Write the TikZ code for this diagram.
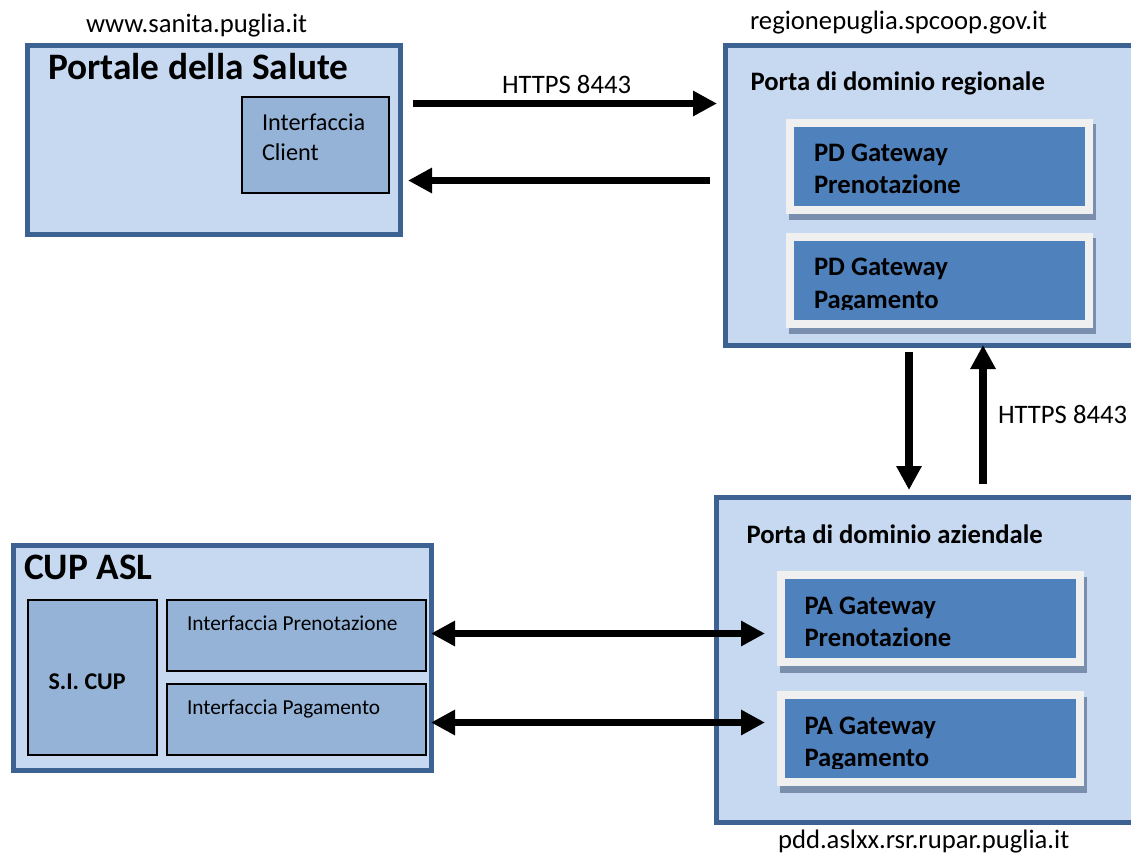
\documentclass[tikz,border=0pt]{standalone}
\usepackage{fontspec}
\setmainfont{Carlito}
\usetikzlibrary{arrows.meta}
\definecolor{cLight}{HTML}{C6D9F1}
\definecolor{cBorder}{HTML}{3B6291}
\definecolor{cMid}{HTML}{95B3D7}
\definecolor{cBlue}{HTML}{4F81BD}
\definecolor{cFrame}{HTML}{F0F0F0}
\definecolor{cShadow}{HTML}{7A8FAE}
\tikzset{
  outerbox/.style={rectangle,draw=cBorder,fill=cLight,line width=3.6pt,inner sep=0pt,outer sep=0pt,anchor=north west},
  midbox/.style={rectangle,draw=black,fill=cMid,line width=1.5pt,inner sep=0pt,outer sep=0pt,anchor=north west},
  gwbox/.style={rectangle,draw=cFrame,fill=cBlue,line width=6pt,minimum width=224.25pt,minimum height=65.6pt,inner sep=0pt,outer sep=0pt,anchor=north west},
  gwshadow/.style={rectangle,fill=cShadow,minimum width=230.25pt,minimum height=72pt,inner sep=0pt,outer sep=0pt,anchor=north west},
  lbl/.style={anchor=base west,inner sep=0pt,outer sep=0pt,text=black,font=\fontsize{20pt}{24pt}\selectfont},
  small/.style={anchor=base west,inner sep=0pt,outer sep=0pt,text=black,font=\fontsize{16pt}{19pt}\selectfont},
  mediumt/.style={anchor=base west,inner sep=0pt,outer sep=0pt,text=black,font=\fontsize{18.2pt}{22pt}\selectfont},
  gwtext/.style={anchor=base west,inner sep=0pt,outer sep=0pt,text=black,font=\bfseries\fontsize{20pt}{24pt}\selectfont},
  sitext/.style={anchor=base west,inner sep=0pt,outer sep=0pt,text=black,font=\bfseries\fontsize{18pt}{22pt}\selectfont},
  title/.style={anchor=base west,inner sep=0pt,outer sep=0pt,text=black,font=\bfseries\fontsize{28pt}{34pt}\selectfont},
  fat/.style={line width=5.8pt,draw=black},
  tipR/.style={-{Triangle[length=18pt,width=18pt]}},
  tipB/.style={{Triangle[length=18pt,width=18pt]}-{Triangle[length=18pt,width=18pt]}}
}
\begin{document}
\begin{tikzpicture}[x=0.75pt,y=-0.75pt]
\useasboundingbox (0,0) rectangle (1131,854);
\clip (0,0) rectangle (1131,854);
% Portale
\node[outerbox,minimum width=279.5pt,minimum height=142pt] (portale) at (27.5,45.5) {};
\node[midbox,minimum width=110pt,minimum height=72pt] (client) at (242,97) {};
\node[title] (tportale) at (48,79) {Portale della Salute};
\node[mediumt] (tclient1) at (262,130) {Interfaccia};
\node[mediumt] (tclient2) at (262,160) {Client};
\node[lbl] (tsanita) at (86,32) {www.sanita.puglia.it};
% Regionale
\node[outerbox,minimum width=340pt,minimum height=225pt] (regionale) at (725.5,45.5) {};
\node[lbl] (treg) at (750,29) {regionepuglia.spcoop.gov.it};
\node[gwtext] (tpdr) at (750.5,90.5) {Porta di dominio regionale};
\node[gwshadow] (sPDa) at (788.7,123.7) {};
\node[gwbox] (PDa) at (790,122.5) {};
\node[gwtext] (tPDa1) at (814,161.5) {PD Gateway};
\node[gwtext] (tPDa2) at (814,193.5) {Prenotazione};
\node[gwshadow] (sPDb) at (788.7,237.7) {};
\node[gwbox] (PDb) at (790,236.5) {};
\node[gwtext] (tPDb1) at (814,275.5) {PD Gateway};
\begin{scope}
\clip (794,280) rectangle (1085,309);
\node[gwtext] (tPDb2) at (814,308.5) {Pagamento};
\end{scope}
% Aziendale
\node[outerbox,minimum width=340pt,minimum height=244pt] (aziendale) at (716.5,497.5) {};
\node[gwtext] (tpda) at (746.5,543.5) {Porta di dominio aziendale};
\node[gwshadow] (sPAa) at (779.7,576.7) {};
\node[gwbox] (PAa) at (781,575) {};
\node[gwtext] (tPAa1) at (804.5,614.5) {PA Gateway};
\node[gwtext] (tPAa2) at (804.5,646.5) {Prenotazione};
\node[gwshadow] (sPAb) at (779.7,696.7) {};
\node[gwbox] (PAb) at (781,695) {};
\node[gwtext] (tPAb1) at (804.5,734.5) {PA Gateway};
\begin{scope}
\clip (785,740) rectangle (1076,768);
\node[gwtext] (tPAb2) at (804.5,766.5) {Pagamento};
\end{scope}
\node[lbl] (tpdd) at (778,848) {pdd.aslxx.rsr.rupar.puglia.it};
% CUP
\node[outerbox,minimum width=313.5pt,minimum height=168.5pt] (cup) at (13.5,545.5) {};
\node[title] (tcup) at (24,579) {CUP ASL};
\node[midbox,minimum width=96.5pt,minimum height=116.5pt] (si) at (28,600) {};
\node[midbox,minimum width=194.5pt,minimum height=53.5pt] (ipren) at (166.5,600) {};
\node[midbox,minimum width=194.5pt,minimum height=53.5pt] (ipag) at (166.5,684) {};
\node[sitext] (tsi) at (48.5,689.5) {S.I. CUP};
\node[small] (tipren) at (187,630) {Interfaccia Prenotazione};
\node[small] (tipag) at (187,714) {Interfaccia Pagamento};
% Arrow labels
\node[lbl] (th1) at (502,93) {HTTPS 8443};
\node[lbl] (th2) at (998,423) {HTTPS 8443};
% Connectors
\coordinate (a1s) at (413,103.5);
\coordinate (a1e) at (717,103.5);
\coordinate (a2s) at (710,180.5);
\coordinate (a2e) at (408,180.5);
\coordinate (a3s) at (909,352);
\coordinate (a3e) at (909,490);
\coordinate (a4s) at (983,484);
\coordinate (a4e) at (983,345);
\coordinate (a5s) at (431,633.5);
\coordinate (a5e) at (765,633.5);
\coordinate (a6s) at (431,722.5);
\coordinate (a6e) at (765,722.5);
\draw[fat,tipR] (a1s) -- (a1e);
\draw[fat,tipR] (a2s) -- (a2e);
\draw[fat,tipR] (a3s) -- (a3e);
\draw[fat,tipR] (a4s) -- (a4e);
\draw[fat,tipB] (a5s) -- (a5e);
\draw[fat,tipB] (a6s) -- (a6e);
\end{tikzpicture}
\end{document}
